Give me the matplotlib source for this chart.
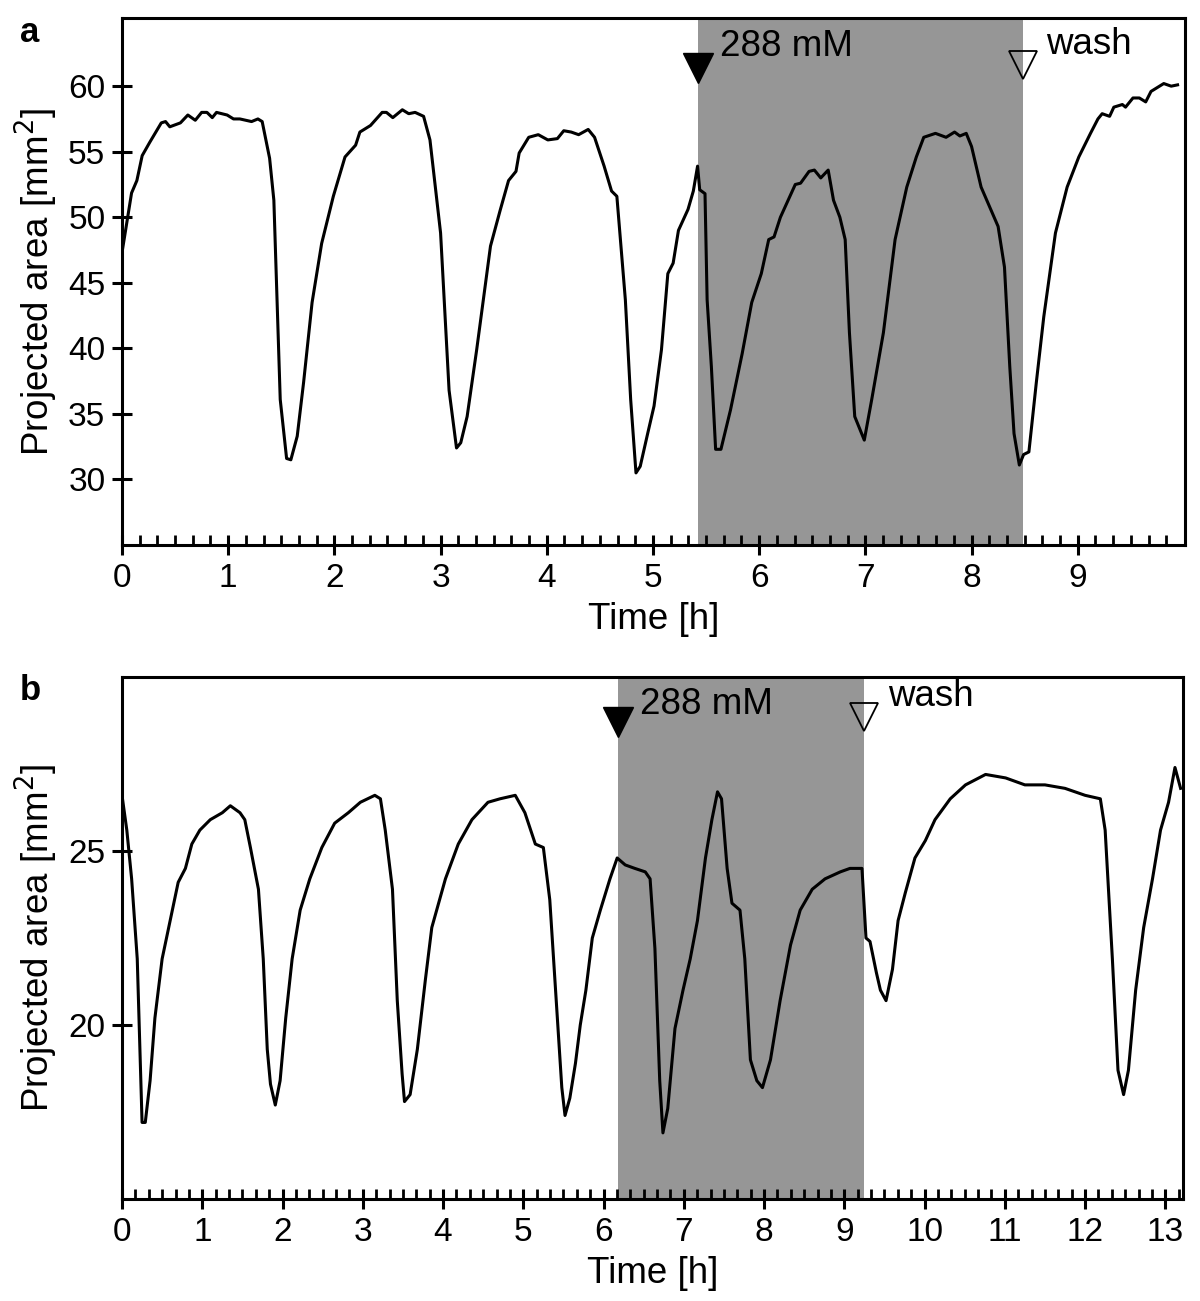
import matplotlib
matplotlib.use('Agg')
import matplotlib.pyplot as plt
import numpy as np
from matplotlib.ticker import FixedLocator

plt.rcParams['font.family'] = ['Liberation Sans', 'DejaVu Sans']

# ---------------- data: panel a ----------------
time_a = [0, 0.09, 0.14, 0.19, 0.26, 0.37, 0.41, 0.45, 0.55, 0.62,
          0.69, 0.75, 0.80, 0.85, 0.89, 0.99, 1.05, 1.11, 1.22, 1.28,
          1.32, 1.39, 1.43, 1.49, 1.55, 1.59, 1.65, 1.71, 1.79, 1.88,
          1.99, 2.10, 2.20, 2.24, 2.34, 2.45, 2.49, 2.55, 2.64, 2.70,
          2.76, 2.84, 2.90, 3.00, 3.08, 3.15, 3.19, 3.25, 3.34, 3.47,
          3.56, 3.64, 3.71, 3.74, 3.83, 3.92, 4.01, 4.10, 4.16, 4.23,
          4.30, 4.39, 4.45, 4.54, 4.61, 4.66, 4.74, 4.79, 4.84, 4.88,
          4.95, 5.01, 5.08, 5.14, 5.19, 5.24, 5.33, 5.38, 5.42, 5.44,
          5.49, 5.51, 5.55, 5.59, 5.64, 5.73, 5.84, 5.93, 6.02, 6.09,
          6.14, 6.20, 6.34, 6.39, 6.47, 6.52, 6.58, 6.65, 6.70, 6.76,
          6.81, 6.85, 6.90, 6.99, 7.06, 7.17, 7.28, 7.39, 7.48, 7.55,
          7.66, 7.76, 7.84, 7.89, 7.95, 8.00, 8.09, 8.25, 8.31, 8.36,
          8.40, 8.45, 8.49, 8.54, 8.61, 8.68, 8.79, 8.90, 9.01, 9.12,
          9.19, 9.23, 9.30, 9.34, 9.42, 9.45, 9.52, 9.58, 9.64, 9.69,
          9.75, 9.81, 9.88, 9.94]
area_a = [47.3, 51.85, 52.8, 54.7, 55.7, 57.2, 57.3, 56.9, 57.2, 57.8,
          57.4, 58.0, 58.0, 57.6, 58.0, 57.8, 57.5, 57.5, 57.3, 57.5,
          57.3, 54.5, 51.3, 36.1, 31.6, 31.5, 33.3, 37.4, 43.5, 48.0,
          51.6, 54.6, 55.5, 56.5, 57.0, 58.0, 58.0, 57.6, 58.2, 57.9,
          58.0, 57.7, 55.9, 48.8, 36.8, 32.4, 32.8, 34.8, 39.9, 47.8,
          50.5, 52.8, 53.5, 54.9, 56.1, 56.3, 55.9, 56.0, 56.6, 56.5,
          56.3, 56.7, 56.1, 53.9, 52.0, 51.6, 43.7, 36.1, 30.5, 31.0,
          33.5, 35.6, 39.9, 45.7, 46.5, 49.0, 50.6, 52.0, 53.9, 52.1,
          51.8, 43.7, 38.6, 32.3, 32.3, 35.3, 39.6, 43.5, 45.7, 48.3,
          48.5, 50.0, 52.5, 52.6, 53.5, 53.6, 53.0, 53.6, 51.3, 50.0,
          48.3, 41.2, 34.8, 33.0, 36.1, 41.2, 48.3, 52.3, 54.6, 56.1,
          56.4, 56.1, 56.5, 56.2, 56.4, 55.4, 52.3, 49.3, 46.2, 38.6,
          33.5, 31.1, 31.9, 32.1, 37.4, 42.4, 48.8, 52.3, 54.6, 56.4,
          57.5, 57.9, 57.7, 58.4, 58.6, 58.4, 59.1, 59.1, 58.8, 59.6,
          59.9, 60.2, 60.0, 60.1]

# ---------------- data: panel b ----------------
time_b = [0, 0.06, 0.12, 0.19, 0.25, 0.29, 0.35, 0.41, 0.50, 0.60,
          0.70, 0.79, 0.87, 0.97, 1.10, 1.25, 1.35, 1.47, 1.53, 1.60,
          1.70, 1.76, 1.81, 1.85, 1.91, 1.97, 2.04, 2.12, 2.22, 2.34,
          2.49, 2.65, 2.82, 2.97, 3.15, 3.22, 3.28, 3.37, 3.43, 3.49,
          3.52, 3.59, 3.68, 3.78, 3.86, 4.03, 4.19, 4.36, 4.56, 4.71,
          4.90, 5.02, 5.15, 5.25, 5.33, 5.41, 5.48, 5.52, 5.58, 5.65,
          5.71, 5.78, 5.86, 5.96, 6.08, 6.17, 6.27, 6.39, 6.52, 6.58,
          6.64, 6.70, 6.74, 6.80, 6.89, 6.99, 7.08, 7.17, 7.27, 7.35,
          7.42, 7.47, 7.54, 7.60, 7.70, 7.76, 7.83, 7.91, 7.98, 8.08,
          8.20, 8.33, 8.45, 8.60, 8.76, 8.95, 9.07, 9.22, 9.27, 9.32,
          9.40, 9.45, 9.52, 9.60, 9.67, 9.76, 9.88, 10.01, 10.13, 10.32,
          10.51, 10.76, 11.01, 11.25, 11.50, 11.75, 12.00, 12.19, 12.25, 12.34,
          12.41, 12.48, 12.54, 12.63, 12.73, 12.84, 12.94, 13.04, 13.12, 13.19]
area_b = [26.6, 25.6, 24.2, 21.9, 17.2, 17.2, 18.4, 20.2, 21.9, 23.0,
          24.1, 24.5, 25.2, 25.6, 25.9, 26.1, 26.3, 26.1, 25.9, 25.1,
          23.9, 21.9, 19.3, 18.3, 17.7, 18.4, 20.2, 21.9, 23.3, 24.2,
          25.1, 25.8, 26.1, 26.4, 26.6, 26.5, 25.6, 23.9, 20.7, 18.6,
          17.8, 18.0, 19.3, 21.3, 22.8, 24.2, 25.2, 25.9, 26.4, 26.5,
          26.6, 26.1, 25.2, 25.1, 23.6, 20.7, 18.2, 17.4, 17.9, 18.9,
          20.0, 21.0, 22.5, 23.3, 24.2, 24.8, 24.6, 24.5, 24.4, 24.2,
          22.2, 18.4, 16.9, 17.6, 19.9, 21.0, 21.9, 23.0, 24.8, 25.9,
          26.7, 26.5, 24.5, 23.5, 23.3, 21.9, 19.0, 18.4, 18.2, 19.0,
          20.7, 22.3, 23.3, 23.9, 24.2, 24.4, 24.5, 24.5, 22.5, 22.4,
          21.5, 21.0, 20.7, 21.6, 23.0, 23.8, 24.8, 25.3, 25.9, 26.5,
          26.9, 27.2, 27.1, 26.9, 26.9, 26.8, 26.6, 26.5, 25.6, 21.9,
          18.7, 18.0, 18.7, 21.0, 22.8, 24.2, 25.6, 26.4, 27.4, 26.8]

# treatment windows (h) and annotations
treat_a = (5.42, 8.48)
treat_b = (6.18, 9.25)
xticks_a = list(range(0, 10))
xticks_b = list(range(0, 14))
yticks_a = [30, 35, 40, 45, 50, 55, 60]
yticks_b = [20, 25]
treat_label = '288 mM'
wash_label = 'wash'
ylabel = 'Projected area [mm$^2$]'
xlabel = 'Time [h]'

TICK_FS = 24
LABEL_FS = 26.5

fig = plt.figure(figsize=(12, 13.01), dpi=100)
ax_a = fig.add_axes([122/1200, 1-545/1301, 1063/1200, 527/1301])
ax_b = fig.add_axes([122/1200, 1-1199/1301, 1061/1200, 522/1301])


def style(ax, xmax, xticks, yticks, ylim):
    ax.set_xlim(0, xmax)
    ax.set_ylim(*ylim)
    for s in ax.spines.values():
        s.set_linewidth(2.2)
    ax.xaxis.set_major_locator(FixedLocator(xticks))
    minors = [i / 6 for i in range(0, int(xmax * 6) + 1) if i % 6 != 0]
    ax.xaxis.set_minor_locator(FixedLocator(minors))
    ax.yaxis.set_major_locator(FixedLocator(yticks))
    ax.tick_params(which='major', direction='inout', length=14, width=2.2,
                   labelsize=TICK_FS, pad=6)
    ax.tick_params(axis='y', which='major', pad=5)
    ax.tick_params(axis='x', which='minor', direction='in', length=7, width=2.0)
    ax.tick_params(axis='y', which='minor', length=0)
    ax.set_xlabel(xlabel, fontsize=LABEL_FS, labelpad=6)
    ax.set_ylabel(ylabel, fontsize=LABEL_FS, labelpad=6)


# panel a
ax_a.axvspan(*treat_a, color='#969696', lw=0, zorder=0)
ax_a.plot(time_a, area_a, color='black', lw=2.2, zorder=3)
style(ax_a, 10.01, xticks_a, yticks_a, (25, 65.2))
ax_a.plot([treat_a[0]], [61.4], marker='v', ms=21, color='black', zorder=4)
ax_a.plot([treat_a[1]], [61.6], marker='v', ms=20, mfc='none', mec='black',
          mew=1.3, zorder=4)
ax_a.text(treat_a[0] + 0.21, 63.0, treat_label, fontsize=LABEL_FS, va='center', ha='left')
ax_a.text(treat_a[1] + 0.22, 63.2, wash_label, fontsize=LABEL_FS, va='center', ha='left')

# panel b
ax_b.axvspan(*treat_b, color='#969696', lw=0, zorder=0)
ax_b.plot(time_b, area_b, color='black', lw=2.2, zorder=3)
style(ax_b, 13.22, xticks_b, yticks_b, (15, 30))
ax_b.plot([treat_b[0]], [28.7], marker='v', ms=21, color='black', zorder=4)
ax_b.plot([treat_b[1]], [28.85], marker='v', ms=20, mfc='none', mec='black',
          mew=1.3, zorder=4)
ax_b.text(treat_b[0] + 0.27, 29.2, treat_label, fontsize=LABEL_FS, va='center', ha='left')
ax_b.text(treat_b[1] + 0.3, 29.45, wash_label, fontsize=LABEL_FS, va='center', ha='left')

fig.text(20/1200, 1-33/1301, 'a', fontsize=25, fontweight='bold', va='center', ha='left')
fig.text(20/1200, 1-690/1301, 'b', fontsize=25, fontweight='bold', va='center', ha='left')

fig.savefig('out.png', dpi=100)
